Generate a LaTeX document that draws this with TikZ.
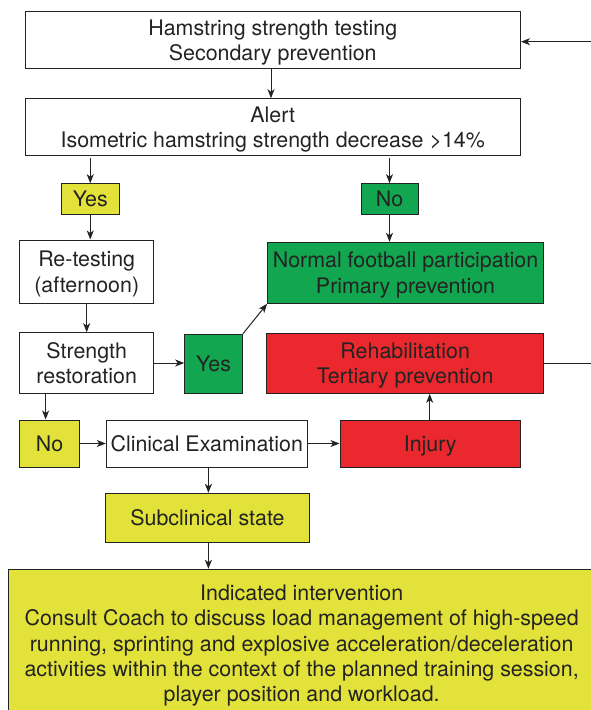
\documentclass[tikz,border=0pt]{standalone}
\usepackage{fontspec}
\setmainfont{TeX Gyre Heros}
\usetikzlibrary{arrows.meta}
\definecolor{ylw}{RGB}{226,226,58}
\definecolor{grn}{RGB}{18,166,80}
\definecolor{rd}{RGB}{234,40,45}
\definecolor{ink}{RGB}{35,35,35}
\begin{document}
\begin{tikzpicture}[x=1pt,y=-1pt,
  box/.style={draw=ink, line width=1pt, rectangle, inner sep=0pt, align=center, text=ink,
    text depth=0pt, font=\fontsize{21.4}{25.3}\selectfont},
  arr/.style={draw=ink, line width=1pt, -{Stealth[length=9pt,width=7pt,inset=2.5pt]}},
  ln/.style={draw=ink, line width=1pt}]
\useasboundingbox (0,0) rectangle (591,710);
\clip (0,0) rectangle (591,710);
% nodes
\node[box, minimum width=495.5pt, minimum height=56.6pt] (test) at (272.75,40) {Hamstring strength testing\\Secondary prevention};
\node[box, minimum width=495.5pt, minimum height=56.3pt] (alert) at (272.75,126.85) {Alert\\Isometric hamstring strength decrease >14\%};
\node[box, fill=ylw, minimum width=57.5pt, minimum height=30.6pt] (yes1) at (90.25,199) {Yes};
\node[box, fill=grn, minimum width=57pt, minimum height=30.6pt] (no1) at (389.5,199) {No};
\node[box, minimum width=134.2pt, minimum height=63.3pt] (retest) at (86.7,271.65) {Re-testing\\(afternoon)};
\node[box, minimum width=134.2pt, minimum height=60.6pt] (strength) at (86.7,363) {Strength\\restoration};
\node[box, fill=grn, minimum width=57.7pt, minimum height=59pt] (yes2) at (213.55,363.8) {Yes};
\node[box, fill=grn, minimum width=275.9pt, minimum height=61pt] (normal) at (405.55,272.8) {Normal football participation\\Primary prevention};
\node[box, fill=rd, minimum width=276.6pt, minimum height=60pt] (rehab) at (405.2,363.3) {Rehabilitation\\Tertiary prevention};
\node[box, fill=ylw, minimum width=59.9pt, minimum height=47pt] (no2) at (49.55,443.5) {No};
\node[box, minimum width=200.9pt, minimum height=47pt] (clin) at (206.75,443.5) {Clinical Examination};
\node[box, fill=rd, minimum width=180.5pt, minimum height=47pt] (injury) at (430.25,443.5) {Injury};
\node[box, fill=ylw, minimum width=204pt, minimum height=49pt] (sub) at (207.5,517.8) {Subclinical state};
\node[box, fill=ylw, minimum width=586.7pt, minimum height=148.2pt] (interv) at (301.65,643.4) {Indicated intervention\\Consult Coach to discuss load management of high-speed\\running, sprinting and explosive acceleration/deceleration\\activities within the context of the planned training session,\\player position and workload.};
% free ends at the right edge
\coordinate (loopin) at (591,41.7);
\coordinate (loopout) at (591,363.3);
% connectors
\draw[arr] (test.south -| 271,0) -- (alert.north -| 271,0);
\draw[arr] ([yshift=-2pt]alert.south -| yes1.north) -- (yes1.north);
\draw[arr] ([yshift=-2pt]alert.south -| no1.north) -- (no1.north);
\draw[arr] (yes1.south) -- (yes1.south |- retest.north);
\draw[arr] (no1.south) -- (no1.south |- normal.north);
\draw[arr] (retest.south) -- (strength.north);
\draw[arr] (strength.south -| 45.6,0) -- (no2.north -| 45.6,0);
\draw[arr] (strength.east) -- (strength.east -| yes2.west);
\draw[arr] (yes2.north east) -- (normal.south west);
\draw[arr] (no2.east) -- (clin.west);
\draw[arr] (clin.east) -- (injury.west);
\draw[arr] (injury.north -| 429.7,0) -- (rehab.south -| 429.7,0);
\draw[arr] (clin.south -| 208.4,0) -- (sub.north -| 208.4,0);
\draw[arr] (sub.south -| 208.4,0) -- (interv.north -| 208.4,0);
\draw[ln] (rehab.east) -- (loopout);
\draw[arr] (loopin) -- (loopin -| test.east);
\end{tikzpicture}
\end{document}
